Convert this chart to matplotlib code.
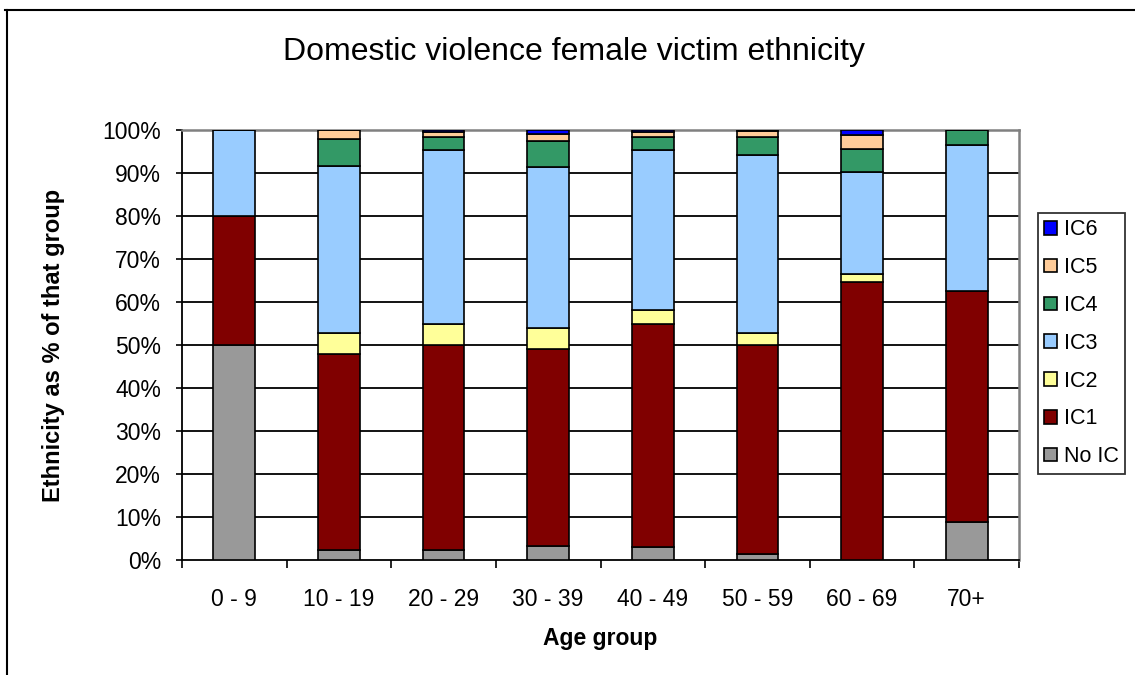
import numpy as np
import matplotlib
matplotlib.use("Agg")
import matplotlib.pyplot as plt
from matplotlib.lines import Line2D

plt.rcParams['font.family'] = ['Liberation Sans', 'DejaVu Sans']

# data (% of each age group)
age_groups = ["0 - 9", "10 - 19", "20 - 29", "30 - 39", "40 - 49", "50 - 59", "60 - 69", "70+"]
series_names = ["No IC", "IC1", "IC2", "IC3", "IC4", "IC5", "IC6"]
no_ic = [50.0, 2.3, 2.3, 3.2, 3.0, 1.4, 0.0, 8.8]
ic1 = [30.0, 45.5, 47.6, 45.9, 51.8, 48.5, 64.6, 53.7]
ic2 = [0.0, 5.1, 5.0, 4.8, 3.3, 3.0, 1.8, 0.0]
ic3 = [20.0, 38.7, 40.4, 37.4, 37.2, 41.4, 23.8, 33.9]
ic4 = [0.0, 6.3, 3.0, 6.1, 3.0, 4.0, 5.3, 3.6]
ic5 = [0.0, 2.0, 1.3, 1.7, 1.3, 1.5, 3.3, 0.0]
ic6 = [0.0, 0.1, 0.4, 0.9, 0.4, 0.2, 1.2, 0.0]
colors = ["#999999", "#800000", "#FFFF99", "#99CCFF", "#339966", "#FFCC99", "#0000FF"]

W, H = 1135, 675
fig = plt.figure(figsize=(W / 100, H / 100), dpi=100)

# outer chart frame (top and left edges visible)
fig.add_artist(Line2D([5 / W, 1], [1 - 10 / H, 1 - 10 / H], color="black", lw=1.5))
fig.add_artist(Line2D([7 / W, 7 / W], [0, 1 - 10 / H], color="black", lw=1.5))

ax = fig.add_axes([182 / W, (H - 560) / H, (1019 - 182) / W, 430 / H])

x = np.arange(len(age_groups))
bottom = np.zeros(len(age_groups))
handles = []
for name, vals, c in zip(series_names, [no_ic, ic1, ic2, ic3, ic4, ic5, ic6], colors):
    vals = np.array(vals)
    b = ax.bar(x, vals, bottom=bottom, width=0.4, color=c, edgecolor="black",
               linewidth=1.2, label=name, zorder=3)
    bottom += vals
    handles.append(b)

fs = 16.5
ax.set_xlim(-0.5, len(age_groups) - 0.5)
ax.set_ylim(0, 100)
ax.set_yticks(np.arange(0, 101, 10))
ax.set_yticklabels([f"{v}%" for v in range(0, 101, 10)], fontsize=fs)
ax.set_xticks(x)
ax.set_xticklabels(age_groups, fontsize=fs)
ax.set_xticks(np.arange(-0.5, len(age_groups)), minor=True)
ax.tick_params(axis="x", which="major", length=0, pad=20)
ax.tick_params(axis="x", which="minor", length=6, width=1.2, direction="out")
ax.tick_params(axis="y", length=4, width=1.2, direction="out", pad=11)

for v in range(10, 100, 10):
    ax.axhline(v, color="black", lw=1.3, zorder=1)

ax.spines["left"].set_linewidth(1.3)
ax.spines["bottom"].set_linewidth(1.3)
ax.spines["top"].set_color("#808080")
ax.spines["top"].set_linewidth(1.8)
ax.spines["right"].set_color("#808080")
ax.spines["right"].set_linewidth(1.8)

ax.set_xlabel("Age group", fontsize=fs, fontweight="bold", labelpad=12)
ax.set_ylabel("Ethnicity as % of that group", fontsize=17, fontweight="bold", labelpad=27)

fig.text(574 / W, 1 - 52 / H, "Domestic violence female victim ethnicity",
         fontsize=23, ha="center", va="center")

leg = fig.legend(handles[::-1], series_names[::-1], loc="upper left",
                 bbox_to_anchor=(1038 / W, 1 - 213 / H), fontsize=15.5,
                 frameon=True, fancybox=False, edgecolor="black",
                 handlelength=0.6, handleheight=0.6, handletextpad=0.3,
                 labelspacing=0.78, borderpad=0.3, borderaxespad=0)
leg.get_frame().set_linewidth(1.3)

fig.savefig("out.png", dpi=100)
